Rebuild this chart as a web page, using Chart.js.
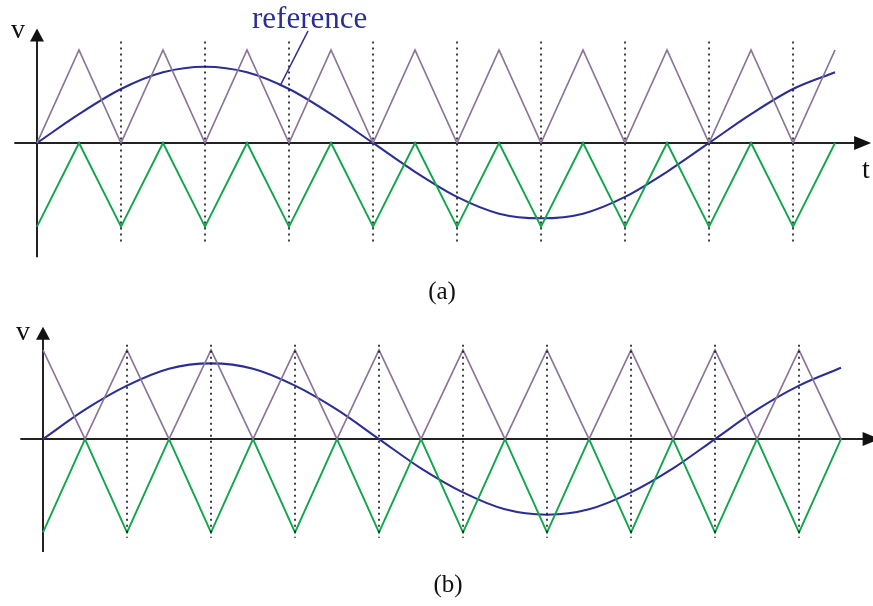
<!DOCTYPE html>
<html>
<head>
<meta charset="utf-8">
<script src="https://cdn.jsdelivr.net/npm/chart.js@4/dist/chart.umd.min.js"></script>
<style>
  body { margin: 0; background: #fff; position: relative; width: 873px; height: 606px; overflow: hidden; }
  canvas { display: block; position: absolute; left: 0; }
  #chartA { top: 0; }
  #chartB { top: 300px; }
</style>
</head>
<body>
<canvas id="chartA" width="873" height="310"></canvas>
<canvas id="chartB" width="873" height="306"></canvas>
<script>
// time in carrier periods, sampled every half period
const times = [0, 0.5, 1, 1.5, 2, 2.5, 3, 3.5, 4, 4.5, 5, 5.5, 6, 6.5, 7, 7.5, 8, 8.5, 9, 9.5]

// (a) carriers in phase
const upperA = [0, 1, 0, 1, 0, 1, 0, 1, 0, 1, 0, 1, 0, 1, 0, 1, 0, 1, 0, 1]
const lowerA = [-0.9, 0, -0.9, 0, -0.9, 0, -0.9, 0, -0.9, 0, -0.9, 0, -0.9, 0, -0.9, 0, -0.9, 0, -0.9, 0]
const refA = [0, 0.31, 0.58, 0.76, 0.82, 0.76, 0.58, 0.31, 0, -0.31, -0.58, -0.76, -0.81, -0.76, -0.58, -0.31, 0, 0.31, 0.58, 0.76]

// (b) carriers in opposition
const upperB = [1, 0, 1, 0, 1, 0, 1, 0, 1, 0, 1, 0, 1, 0, 1, 0, 1, 0, 1, 0]
const lowerB = [-1.05, 0, -1.05, 0, -1.05, 0, -1.05, 0, -1.05, 0, -1.05, 0, -1.05, 0, -1.05, 0, -1.05, 0, -1.05, 0]
const refB = [0, 0.33, 0.6, 0.79, 0.85, 0.79, 0.6, 0.33, 0, -0.33, -0.6, -0.79, -0.85, -0.79, -0.6, -0.33, 0, 0.33, 0.6, 0.8]

// sampling instants (dotted markers)
const marks = [1, 2, 3, 4, 5, 6, 7, 8, 9]

const purple = '#8a7399'
const green = '#12a64c'
const blue = '#2b2f93'
const serif = '"Liberation Serif", "DejaVu Serif", serif'

const pts = (xs, ys) => xs.map((x, i) => ({ x: x, y: ys[i] }))

function buildPanel(id, cfg) {
    const sets = []
    cfg.marks.forEach(t => {
        sets.push({
            data: [{ x: t, y: cfg.markTop }, { x: t, y: cfg.markBottom }],
            borderColor: '#111', borderWidth: 1.6, borderDash: [2, 4],
            pointRadius: 0, tension: 0
        })
    })
    sets.push({ data: pts(times, cfg.upper), borderColor: purple, borderWidth: 1.7, pointRadius: 0, tension: 0 })
    sets.push({ data: pts(times, cfg.lower), borderColor: green, borderWidth: 1.9, pointRadius: 0, tension: 0 })
    sets.push({ data: pts(times, cfg.ref), borderColor: blue, borderWidth: 2.1, pointRadius: 0, cubicInterpolationMode: 'monotone' })

    // arrowed axes and text labels
    const axesPlugin = {
        id: 'axes' + id,
        beforeDatasetsDraw(chart) {
            const ctx = chart.ctx
            const xs = chart.scales.x, ys = chart.scales.y
            const x0 = xs.getPixelForValue(0), y0 = ys.getPixelForValue(0)
            ctx.save()
            ctx.strokeStyle = '#222'
            ctx.fillStyle = '#111'
            ctx.lineWidth = 2
            ctx.beginPath()
            ctx.moveTo(xs.getPixelForValue(cfg.xAxis[0]), y0)
            ctx.lineTo(xs.getPixelForValue(cfg.xAxis[1]) - 10, y0)
            ctx.moveTo(x0, ys.getPixelForValue(cfg.yAxis[0]))
            ctx.lineTo(x0, ys.getPixelForValue(cfg.yAxis[1]) + 10)
            ctx.stroke()
            const xt = xs.getPixelForValue(cfg.xAxis[1])
            ctx.beginPath()
            ctx.moveTo(xt, y0)
            ctx.lineTo(xt - 17, y0 - 7)
            ctx.lineTo(xt - 17, y0 + 7)
            ctx.closePath()
            ctx.fill()
            const yt = ys.getPixelForValue(cfg.yAxis[1])
            ctx.beginPath()
            ctx.moveTo(x0, yt)
            ctx.lineTo(x0 - 7, yt + 13)
            ctx.lineTo(x0 + 7, yt + 13)
            ctx.closePath()
            ctx.fill()
            ctx.restore()
        },
        afterDraw(chart) {
            const ctx = chart.ctx
            ctx.save()
            ctx.fillStyle = '#111'
            ctx.textBaseline = 'alphabetic'
            ctx.font = '28px ' + serif
            ctx.textAlign = 'left'
            ctx.fillText('v', cfg.vPos[0], cfg.vPos[1])
            if (cfg.tPos) ctx.fillText('t', cfg.tPos[0], cfg.tPos[1])
            ctx.textAlign = 'center'
            ctx.font = '25px ' + serif
            ctx.fillText(cfg.caption, cfg.captionX, cfg.captionY)
            if (cfg.refLabel) {
                ctx.fillStyle = blue
                ctx.font = '31px ' + serif
                ctx.textAlign = 'left'
                ctx.fillText('reference', 252, 28)
                ctx.strokeStyle = blue
                ctx.lineWidth = 1.6
                ctx.beginPath()
                ctx.moveTo(308, 31)
                ctx.lineTo(280, 86)
                ctx.stroke()
            }
            ctx.restore()
        }
    }

    return new Chart(document.getElementById(id), {
        type: 'line',
        data: { datasets: sets },
        options: {
            responsive: false,
            animation: false,
            devicePixelRatio: 1,
            layout: { padding: 0 },
            plugins: { legend: { display: false }, tooltip: { enabled: false } },
            scales: {
                x: { type: 'linear', display: false, min: cfg.xRange[0], max: cfg.xRange[1] },
                y: { display: false, min: cfg.yRange[0], max: cfg.yRange[1] }
            }
        },
        plugins: [axesPlugin]
    })
}

buildPanel('chartA', {
    upper: upperA, lower: lowerA, ref: refA, marks: marks,
    markTop: 1.09, markBottom: -1.08,
    xRange: [-0.4405, 9.952], yRange: [-1.796, 1.5376],
    xAxis: [-0.27, 9.93], yAxis: [-1.23, 1.23],
    vPos: [11, 38], tPos: [862, 178],
    caption: '(a)', captionX: 442, captionY: 299, refLabel: true
})

buildPanel('chartB', {
    upper: upperB, lower: lowerB, ref: refB, marks: marks,
    markTop: 1.06, markBottom: -1.11,
    xRange: [-0.512, 9.881], yRange: [-1.876, 1.5618],
    xAxis: [-0.27, 9.96], yAxis: [-1.27, 1.26],
    vPos: [16, 40],
    caption: '(b)', captionX: 448, captionY: 292, refLabel: false
})
</script>
</body>
</html>
